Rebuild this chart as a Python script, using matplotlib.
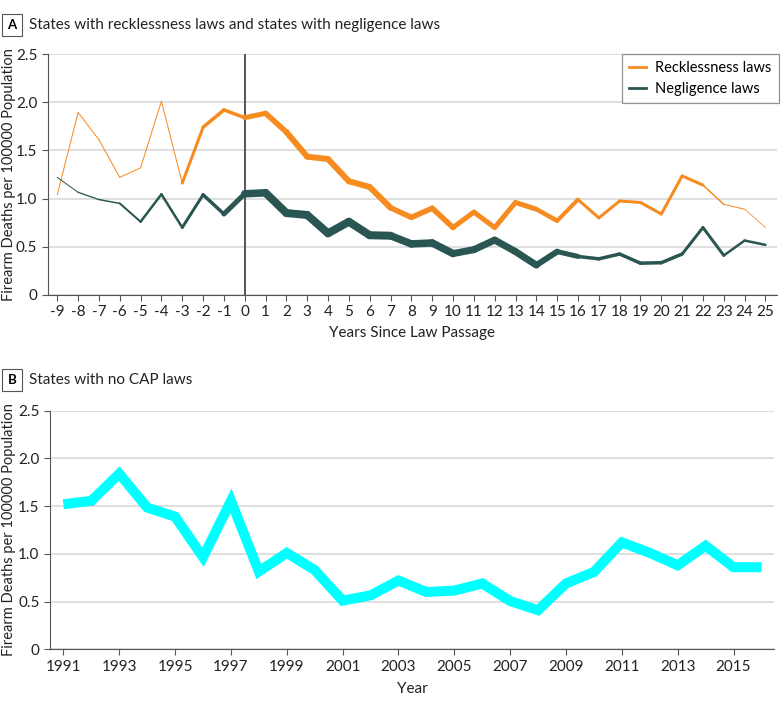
import numpy as np
import matplotlib
matplotlib.use("Agg")
import matplotlib.pyplot as plt
from matplotlib.lines import Line2D

plt.rcParams['font.family'] = ['Lato', 'DejaVu Sans']
plt.rcParams['axes.unicode_minus'] = False

# panel A: years relative to law passage
years_since = list(range(-9, 26))
reckless = [1.04, 1.895, 1.61, 1.22, 1.32, 2.01, 1.16, 1.74, 1.92, 1.84, 1.885, 1.69,
            1.435, 1.41, 1.18, 1.12, 0.905, 0.805, 0.90, 0.70, 0.86, 0.70, 0.96, 0.89,
            0.77, 0.99, 0.80, 0.975, 0.96, 0.84, 1.235, 1.14, 0.94, 0.89, 0.70]
negligence = [1.22, 1.065, 0.99, 0.95, 0.76, 1.045, 0.70, 1.04, 0.84, 1.05, 1.06, 0.85,
              0.83, 0.64, 0.76, 0.62, 0.615, 0.53, 0.54, 0.43, 0.47, 0.57, 0.45, 0.31,
              0.45, 0.40, 0.375, 0.425, 0.33, 0.335, 0.425, 0.70, 0.41, 0.565, 0.52]

# panel B: calendar years
years = list(range(1991, 2017))
no_cap = [1.52, 1.555, 1.84, 1.485, 1.39, 0.965, 1.555, 0.815, 1.01, 0.83, 0.51, 0.565,
          0.72, 0.60, 0.615, 0.69, 0.505, 0.41, 0.69, 0.81, 1.12, 1.01, 0.88, 1.085,
          0.86, 0.86]

# segment thickness (pixels) - line gets thicker where more states contribute
reckless_px = [1, 1, 1, 1, 1, 1, 3, 3.5, 3.5, 5, 5.5, 6, 6, 6, 6, 6, 5.5, 5.5, 5.5,
               5, 5, 5, 5, 4.5, 4, 3, 3, 3, 3, 3, 3, 1.5, 1, 0.8]
negligence_px = [1, 1.3, 1.5, 2, 2.5, 2.5, 3, 3.5, 5, 7.5, 8, 8, 8, 8, 8, 8, 7.5, 7.5,
                 7.5, 7, 7, 7, 7, 6, 5, 3.5, 3.5, 3.5, 3.5, 3.5, 3, 3, 2.5, 2.5]

ORANGE = '#f68b1f'
GREEN = '#2a5652'
CYAN = '#00ffff'
AXCOL = '#555555'
GRIDCOL = '#d9d9d9'
TXT = '#222222'
PX = 0.72  # pixels -> points at dpi 100


def style_axes(ax, spine_px):
    ax.spines['top'].set_visible(False)
    ax.spines['right'].set_visible(False)
    ax.spines['left'].set_color(AXCOL)
    ax.spines['bottom'].set_color(AXCOL)
    ax.tick_params(colors=TXT, labelsize=11, length=4, color=AXCOL, pad=3.5)
    ax.set_ylim(0, 2.5)
    ax.set_yticks([0, 0.5, 1.0, 1.5, 2.0, 2.5])
    ax.set_yticklabels(['0', '0.5', '1.0', '1.5', '2.0', '2.5'])
    ax.yaxis.grid(True, color=GRIDCOL, lw=1.2)
    ax.set_axisbelow(True)
    ax.set_ylabel('Firearm Deaths per 100000 Population', fontsize=10.5, color=TXT)
    # label right edge about 16 px from the figure edge
    ax.yaxis.set_label_coords(-(spine_px - 16) / ax.bbox.width, 0.5)


def panel_label(fig, y, letter, text):
    fig.text(12 / 783, y, letter, fontsize=9.5, fontweight='bold', va='center', ha='center',
             bbox=dict(boxstyle='square,pad=0.4', fc='white', ec=AXCOL, lw=0.8))
    fig.text(29 / 783, y, text, fontsize=11, va='center', color=TXT)


fig = plt.figure(figsize=(7.83, 7.04), dpi=100)

# ---- panel A
ax1 = fig.add_axes([47.7 / 783, 1 - 295 / 704, 729 / 783, 241 / 704])
style_axes(ax1, 47.7)
ax1.axvline(0, color=AXCOL, lw=1.4, zorder=2)
for i in range(len(years_since) - 1):
    ax1.plot(years_since[i:i + 2], reckless[i:i + 2], color=ORANGE,
             lw=reckless_px[i] * PX, solid_capstyle='round', zorder=3)
    ax1.plot(years_since[i:i + 2], negligence[i:i + 2], color=GREEN,
             lw=negligence_px[i] * PX, solid_capstyle='round', zorder=3)
ax1.set_xlim(-9.46, 25.54)
ax1.set_xticks(years_since)
ax1.set_xlabel('Years Since Law Passage', fontsize=11, color=TXT, labelpad=5)
handles = [Line2D([], [], color=ORANGE, lw=2), Line2D([], [], color=GREEN, lw=2)]
leg = ax1.legend(handles, ['Recklessness laws', 'Negligence laws'], loc='upper right',
                 fontsize=10.5, frameon=True, fancybox=False, handlelength=1.2,
                 handletextpad=0.6, borderpad=0.5, borderaxespad=0.0,
                 bbox_to_anchor=(1.003, 1.0), labelspacing=0.45)
leg.get_frame().set_edgecolor('#777777')
leg.get_frame().set_linewidth(0.9)
panel_label(fig, 1 - 25 / 704, 'A', 'States with recklessness laws and states with negligence laws')

# ---- panel B
ax2 = fig.add_axes([50 / 783, 1 - 649.3 / 704, 724 / 783, 238.6 / 704])
style_axes(ax2, 50)
ax2.plot(years, no_cap, color=CYAN, lw=10 * PX, solid_joinstyle='miter',
         solid_capstyle='butt', zorder=3)
ax2.set_xlim(1990.52, 2016.45)
ax2.set_xticks(years[::2])
ax2.set_xlabel('Year', fontsize=11, color=TXT, labelpad=6)
panel_label(fig, 1 - 380 / 704, 'B', 'States with no CAP laws')

fig.savefig('out.png', dpi=100)
